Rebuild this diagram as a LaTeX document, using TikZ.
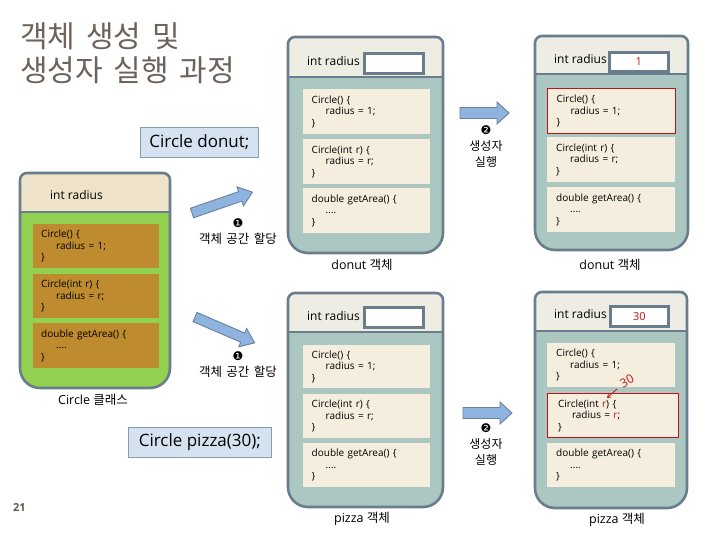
\documentclass[tikz,border=0pt]{standalone}
\usepackage{fontspec}
\setmainfont{Open Sans}
\newfontfamily\kr{Noto Sans CJK KR}
\newfontfamily\krtitle[WordSpace=1.6]{Noto Sans CJK KR}
\newfontfamily\dv{DejaVu Sans}
\usetikzlibrary{arrows.meta}
\definecolor{contc}{RGB}{106,125,140}
\definecolor{hdrc}{RGB}{238,237,228}
\definecolor{bodyc}{RGB}{172,199,193}
\definecolor{innerc}{RGB}{245,238,222}
\definecolor{clshdr}{RGB}{238,227,201}
\definecolor{clsbody}{RGB}{146,208,80}
\definecolor{clsinner}{RGB}{191,139,47}
\definecolor{callfill}{RGB}{213,226,240}
\definecolor{calldraw}{RGB}{135,155,178}
\definecolor{arrfill}{RGB}{141,179,222}
\definecolor{arrdraw}{RGB}{105,130,158}
\definecolor{redc}{RGB}{192,20,20}
\definecolor{titlec}{RGB}{110,98,92}
\newcommand\cdfont{\fontsize{10}{11.5}\selectfont}
\newcommand\contpath[5]{(#1,#5) [rounded corners=7pt] -- (#1,#2) -- (#3,#2) -- (#3,#5) [rounded corners=20pt] -- (#3,#4) -- (#1,#4) -- cycle}
% L T R B S header body
\newcommand\mkcont[7]{%
  \fill[#7] \contpath{#1}{#2}{#3}{#4}{#5};
  \begin{scope}
    \clip \contpath{#1}{#2}{#3}{#4}{#5};
    \fill[#6] (#1-5,#2-5) rectangle (#3+5,#5);
  \end{scope}
  \draw[contline] (#1,#5) -- (#3,#5);
  \draw[contline] \contpath{#1}{#2}{#3}{#4}{#5};
}
% x y angle length shafthalf headhalf headlen
\newcommand\barrow[7]{%
  \begin{scope}[shift={(#1,#2)}, rotate=#3]
    \draw[arrst] (0,-#5) -- (#4-#7,-#5) -- (#4-#7,-#6) -- (#4,0) -- (#4-#7,#6) -- (#4-#7,#5) -- (0,#5) -- cycle;
  \end{scope}}
\tikzset{
  contline/.style={draw=contc, line width=2.6pt},
  ibox/.style={fill=innerc, anchor=north west, inner xsep=8pt, inner ysep=0pt,
    text width=110pt, align=left, font=\cdfont},
  cbox/.style={ibox, fill=clsinner},
  valbox/.style={draw=contc, fill=white, line width=2.6pt, anchor=north west, inner sep=0pt},
  hdrtext/.style={anchor=west, inner sep=0pt, font=\fontsize{12}{14}\selectfont},
  objlabel/.style={inner sep=0pt, font=\fontsize{12.5}{14}\selectfont},
  callbox/.style={fill=callfill, draw=calldraw, line width=0.8pt, inner sep=0pt,
    font=\fontsize{17}{20}\selectfont},
  steplabel/.style={inner sep=0pt, font=\kr\fontsize{12}{14}\selectfont},
  numlabel/.style={inner sep=0pt, font=\dv\fontsize{12}{14}\selectfont},
  arrst/.style={fill=arrfill, draw=arrdraw, line width=0.9pt, line join=miter},
  redval/.style={text=redc, inner sep=0pt, font=\fontsize{11}{13}\selectfont}
}
\begin{document}
\begin{tikzpicture}[x=1pt,y=-1pt]
\useasboundingbox (0,0) rectangle (720,540);
\fill[white] (0,0) rectangle (720,540);

% title
\node[anchor=base west, inner sep=0pt, text=titlec, font=\krtitle\fontsize{30}{34}\selectfont] (t1) at (20,48) {객체 생성 및};
\node[anchor=base west, inner sep=0pt, text=titlec, font=\krtitle\fontsize{30}{34}\selectfont] (t2) at (20,82) {생성자 실행 과정};

% call boxes
\node[callbox, minimum width=118pt, minimum height=30pt, anchor=north west] (cd) at (140,127) {Circle donut;};
\node[callbox, minimum width=143pt, minimum height=30pt, anchor=north west] (cp) at (128,427) {Circle pizza(30);};

% class
\mkcont{20}{173}{170}{388}{212}{clshdr}{clsbody}
\node[hdrtext] (clsl) at (50,195) {int radius};
\node[cbox, minimum width=126pt, minimum height=44pt] (c1) at (33,224) {Circle() \{\\\hspace*{15pt}radius = 1;\\\}};
\node[cbox, minimum width=126pt, minimum height=44pt] (c2) at (33,274) {Circle(int r) \{\\\hspace*{15pt}radius = r;\\\}};
\node[cbox, minimum width=126pt, minimum height=45pt] (c3) at (33,323) {double getArea() \{\\\hspace*{15pt}....\\\}};
\node[objlabel] (clsname) at (93,400) {Circle {\kr 클래스}};

% top middle object
\mkcont{288}{37}{443}{253}{77}{hdrc}{bodyc}
\node[hdrtext] (tml) at (307,61) {int radius};
\node[valbox, minimum width=59pt, minimum height=20pt] (tmv) at (363,52) {};
\node[ibox, minimum width=127pt, minimum height=45pt] (tm1) at (303,89) {Circle() \{\\\hspace*{14pt}radius = 1;\\\}};
\node[ibox, minimum width=127pt, minimum height=45pt] (tm2) at (303,139) {Circle(int r) \{\\\hspace*{14pt}radius = r;\\\}};
\node[ibox, minimum width=127pt, minimum height=45pt] (tm3) at (303,188) {double getArea() \{\\\hspace*{14pt}....\\\}};
\node[objlabel] (tmn) at (362,265) {donut {\kr 객체}};

% top right object
\mkcont{535}{36}{688}{250}{74}{hdrc}{bodyc}
\node[hdrtext] (trl) at (554,59) {int radius};
\node[valbox, minimum width=59pt, minimum height=19pt] (trv) at (608,51) {};
\node[redval] (trvt) at (trv.center) {1};
\node[ibox, minimum width=128pt, minimum height=45pt, draw=redc, line width=1.1pt] (tr1) at (547,88) {Circle() \{\\\hspace*{14pt}radius = 1;\\\}};
\node[ibox, minimum width=128pt, minimum height=45pt] (tr2) at (547,137) {Circle(int r) \{\\\hspace*{14pt}radius = r;\\\}};
\node[ibox, minimum width=128pt, minimum height=45pt] (tr3) at (547,187) {double getArea() \{\\\hspace*{14pt}....\\\}};
\node[objlabel] (trn) at (610,265) {donut {\kr 객체}};

% bottom middle object
\mkcont{288}{293}{443}{507}{332}{hdrc}{bodyc}
\node[hdrtext] (bml) at (307,316) {int radius};
\node[valbox, minimum width=59pt, minimum height=20pt] (bmv) at (363,306) {};
\node[ibox, minimum width=127pt, minimum height=43pt] (bm1) at (303,345) {Circle() \{\\\hspace*{14pt}radius = 1;\\\}};
\node[ibox, minimum width=127pt, minimum height=44pt] (bm2) at (303,394) {Circle(int r) \{\\\hspace*{14pt}radius = r;\\\}};
\node[ibox, minimum width=127pt, minimum height=44pt] (bm3) at (303,443) {double getArea() \{\\\hspace*{14pt}....\\\}};
\node[objlabel] (bmn) at (362,519) {pizza {\kr 객체}};

% bottom right object
\mkcont{535}{292}{687}{508}{331}{hdrc}{bodyc}
\node[hdrtext] (brl) at (554,314) {int radius};
\node[valbox, minimum width=58pt, minimum height=20pt] (brv) at (609,305) {};
\node[redval] (brvt) at (brv.center) {30};
\node[ibox, minimum width=128pt, minimum height=44pt] (br1) at (547,343) {Circle() \{\\\hspace*{14pt}radius = 1;\\\}};
\node[ibox, minimum width=131pt, minimum height=44pt, draw=redc, line width=1.1pt] (br2) at (547,393) {Circle(int {\color{redc}r}) \{\\\hspace*{14pt}radius = {\color{redc}r};\\\}};
\node[ibox, minimum width=128pt, minimum height=44pt] (br3) at (547,443) {double getArea() \{\\\hspace*{14pt}....\\\}};
\node[objlabel] (brn) at (617,520) {pizza {\kr 객체}};

% annotation 30
\node[text=redc, inner sep=0pt, rotate=30, font=\fontsize{12}{13}\selectfont] (ann) at (627,381) {30};
\coordinate (anntail) at (617,389);
\coordinate (anntip) at (607,398);
\draw[redc, line width=0.8pt, -{Straight Barb[length=3pt,width=4pt]}] (anntail) -- (anntip);

% arrows step 1
\barrow{192}{213}{19}{64}{5}{10}{13}
\node[numlabel] (s1an) at (238,223) {❶};
\node[steplabel, font=\kr\fontsize{12.5}{14}\selectfont] (s1at) at (238,239) {객체 공간 할당};
\barrow{195}{317}{-23.4}{65}{5}{10}{13}
\node[numlabel] (s1bn) at (238,356) {❶};
\node[steplabel, font=\kr\fontsize{12.5}{14}\selectfont] (s1bt) at (238,372) {객체 공간 할당};

% arrows step 2
\barrow{460}{113}{0}{49}{5.5}{11}{12}
\node[numlabel] (s2an) at (486,130) {❷};
\node[steplabel] (s2at) at (486,146) {생성자};
\node[steplabel] (s2bt) at (486,162) {실행};
\barrow{463}{413}{0}{49}{5.5}{11}{12}
\node[numlabel] (s2cn) at (486,428) {❷};
\node[steplabel] (s2ct) at (486,444) {생성자};
\node[steplabel] (s2dt) at (486,460) {실행};

% page number
\node[anchor=base west, inner sep=0pt, text=titlec!90!black, font=\bfseries\fontsize{11}{13}\selectfont] (pg) at (13,511) {21};
\end{tikzpicture}
\end{document}
